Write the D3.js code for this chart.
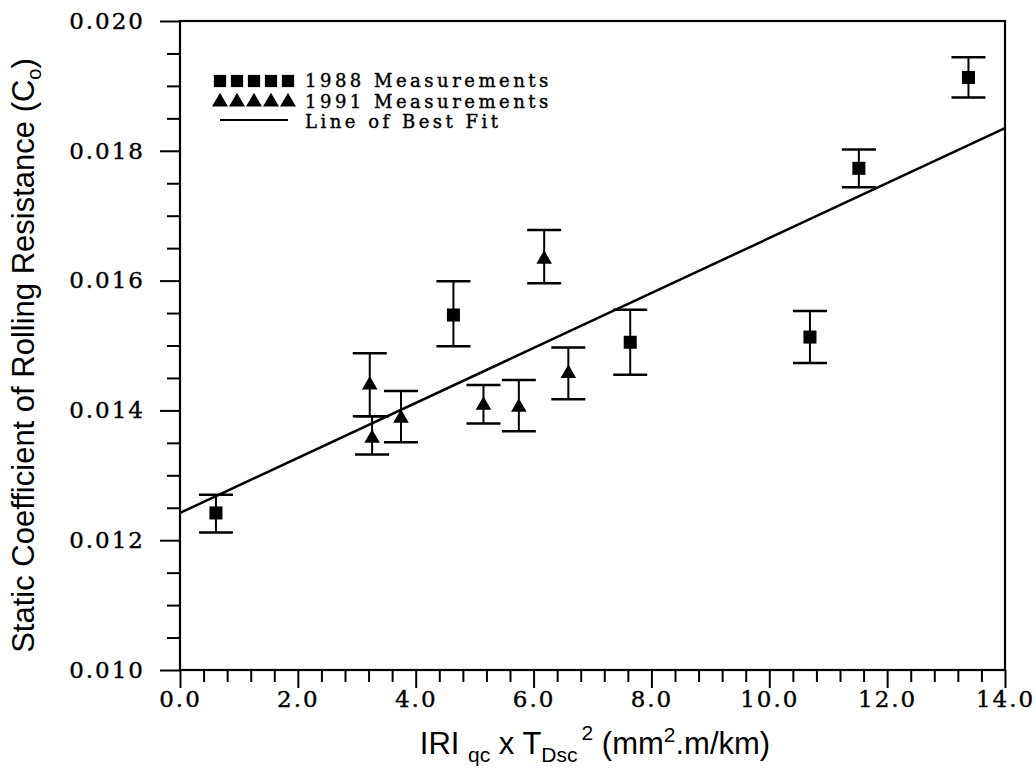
<!DOCTYPE html>
<html>
<head>
<meta charset="utf-8">
<script src="https://cdn.jsdelivr.net/npm/d3@7"></script>
<style>
  body { margin: 0; background: #fff; }
  .tick-label { font-family: "DejaVu Serif", serif; font-size: 23px; letter-spacing: 2px; fill: #000; stroke: #000; stroke-width: 0.4px; }
  .title { font-family: "Liberation Sans", Arial, sans-serif; font-size: 31px; fill: #000; }
  .legend { font-family: "DejaVu Serif", serif; font-size: 18px; letter-spacing: 3.5px; fill: #000; stroke: #000; stroke-width: 0.4px; }
</style>
</head>
<body>
<div id="chart"></div>
<script>
// 1988 measurements (squares)
const x88  = [0.61, 4.64, 7.64, 10.69, 11.52, 13.38];
const c88  = [0.01242, 0.01547, 0.01505, 0.01513, 0.01773, 0.01913];
const lo88 = [0.01212, 0.01499, 0.01455, 0.01473, 0.01744, 0.01882];
const hi88 = [0.01270, 0.01599, 0.01555, 0.01553, 0.01802, 0.01944];

// 1991 measurements (triangles)
const x91  = [3.22, 3.26, 3.75, 5.15, 5.75, 6.18, 6.59];
const c91  = [0.01439, 0.01357, 0.01388, 0.01408, 0.01405, 0.01633, 0.01457];
const lo91 = [0.01391, 0.01332, 0.01351, 0.01380, 0.01368, 0.01596, 0.01417];
const hi91 = [0.01488, 0.01391, 0.01430, 0.01439, 0.01447, 0.01678, 0.01497];

// line of best fit end points
const fitX = [0, 14];
const fitY = [0.01242, 0.01835];

const xTickValues = [0, 2, 4, 6, 8, 10, 12, 14];
const yTickValues = [0.010, 0.012, 0.014, 0.016, 0.018, 0.020];
const legendLabels = ["1988 Measurements", "1991 Measurements", "Line of Best Fit"];

const width = 1035,
      height = 769,
      margin = ({ top: 21, right: 30, bottom: 99, left: 180 });

const svg = d3.select("#chart")
    .append("svg")
    .attr("width", width)
    .attr("height", height);

const x = d3.scaleLinear()
    .domain([0, 14])
    .range([margin.left, width - margin.right]);

const y = d3.scaleLinear()
    .domain([0.010, 0.020])
    .range([height - margin.bottom, margin.top]);

// x axis: minor ticks every 0.4, major every 2
const xMinor = d3.range(0, 14.001, 0.4).filter(v => Math.abs(v / 2 - Math.round(v / 2)) > 1e-6);
svg.append("g")
    .attr("transform", `translate(0,${y(0.010)})`)
    .call(d3.axisBottom(x).tickValues(xMinor).tickSize(12).tickFormat(""))
    .call(g => g.select(".domain").remove())
    .call(g => g.selectAll("line").attr("stroke-width", 2));

svg.append("g")
    .attr("transform", `translate(0,${y(0.010)})`)
    .call(d3.axisBottom(x).tickValues(xTickValues).tickSize(18).tickFormat(d3.format(".1f")).tickPadding(2))
    .call(g => g.select(".domain").remove())
    .call(g => g.selectAll("line").attr("stroke-width", 2))
    .call(g => g.selectAll("text").attr("class", "tick-label").attr("dy", "0.75em"));

// y axis: minor every 0.0005, major every 0.002
const yMinor = d3.range(0.0100, 0.02001, 0.0005).filter(v => Math.abs(v / 0.002 - Math.round(v / 0.002)) > 1e-6);
svg.append("g")
    .attr("transform", `translate(${x(0)},0)`)
    .call(d3.axisLeft(y).tickValues(yMinor).tickSize(13).tickFormat(""))
    .call(g => g.select(".domain").remove())
    .call(g => g.selectAll("line").attr("stroke-width", 2));

svg.append("g")
    .attr("transform", `translate(${x(0)},0)`)
    .call(d3.axisLeft(y).tickValues(yTickValues).tickSize(20).tickFormat(d3.format(".3f")).tickPadding(15))
    .call(g => g.select(".domain").remove())
    .call(g => g.selectAll("line").attr("stroke-width", 2))
    .call(g => g.selectAll("text").attr("class", "tick-label"));

// frame
svg.append("rect")
    .attr("x", x(0))
    .attr("y", y(0.020))
    .attr("width", x(14) - x(0))
    .attr("height", y(0.010) - y(0.020))
    .attr("fill", "none")
    .attr("stroke", "#000")
    .attr("stroke-width", 2.2);

// line of best fit
svg.append("line")
    .attr("x1", x(fitX[0])).attr("y1", y(fitY[0]))
    .attr("x2", x(fitX[1])).attr("y2", y(fitY[1]))
    .attr("stroke", "#000")
    .attr("stroke-width", 2.5);

// error bars + markers
function drawSeries(xs, cs, los, his, shape, size) {
    const capW = 17;
    const g = svg.append("g");
    xs.forEach((xv, i) => {
        const px = x(xv);
        g.append("line")
            .attr("x1", px).attr("x2", px)
            .attr("y1", y(los[i])).attr("y2", y(his[i]))
            .attr("stroke", "#000").attr("stroke-width", 2);
        [los[i], his[i]].forEach(v => {
            g.append("line")
                .attr("x1", px - capW).attr("x2", px + capW)
                .attr("y1", y(v)).attr("y2", y(v))
                .attr("stroke", "#000").attr("stroke-width", 2.5);
        });
        g.append("path")
            .attr("d", d3.symbol(shape, size)())
            .attr("transform", `translate(${px},${y(cs[i])})`)
            .attr("fill", "#000");
    });
}
drawSeries(x88, c88, lo88, hi88, d3.symbolSquare, 170);
drawSeries(x91, c91, lo91, hi91, d3.symbolTriangle, 105);

// legend
const legend = svg.append("g").attr("transform", "translate(213,0)");
const rowY = [81, 102, 122];
[d3.symbolSquare, d3.symbolTriangle].forEach((shape, r) => {
    d3.range(5).forEach(k => {
        legend.append("path")
            .attr("d", d3.symbol(shape, r === 0 ? 150 : 110)())
            .attr("transform", `translate(${7 + k * 17},${rowY[r]})`)
            .attr("fill", "#000");
    });
});
legend.append("line")
    .attr("x1", 7).attr("x2", 75)
    .attr("y1", rowY[2] - 2).attr("y2", rowY[2] - 2)
    .attr("stroke", "#000").attr("stroke-width", 2);
legendLabels.forEach((t, i) => {
    legend.append("text")
        .attr("class", "legend")
        .attr("x", 92)
        .attr("y", rowY[i])
        .attr("dy", "0.35em")
        .text(t);
});

// y title
const yt = svg.append("text")
    .attr("class", "title")
    .attr("text-anchor", "middle")
    .attr("transform", `translate(34,${(y(0.010) + y(0.020)) / 2 + 10}) rotate(-90)`);
yt.append("tspan").text("Static Coefficient of Rolling Resistance (C");
yt.append("tspan").attr("font-size", "20px").attr("dy", 7).text("o");
yt.append("tspan").attr("dy", -7).text(")");

// x title
const xt = svg.append("text")
    .attr("class", "title")
    .attr("text-anchor", "middle")
    .attr("x", 595)
    .attr("y", 754);
xt.append("tspan").text("IRI ");
xt.append("tspan").attr("font-size", "21px").attr("dy", 8).text("qc");
xt.append("tspan").attr("dy", -8).text(" x T");
xt.append("tspan").attr("font-size", "21px").attr("dy", 8).text("Dsc");
xt.append("tspan").attr("font-size", "21px").attr("dy", -22).attr("dx", 4).text("2");
xt.append("tspan").attr("dy", 14).text(" (mm");
xt.append("tspan").attr("font-size", "21px").attr("dy", -12).text("2");
xt.append("tspan").attr("dy", 12).text(".m/km)");
</script>
</body>
</html>
